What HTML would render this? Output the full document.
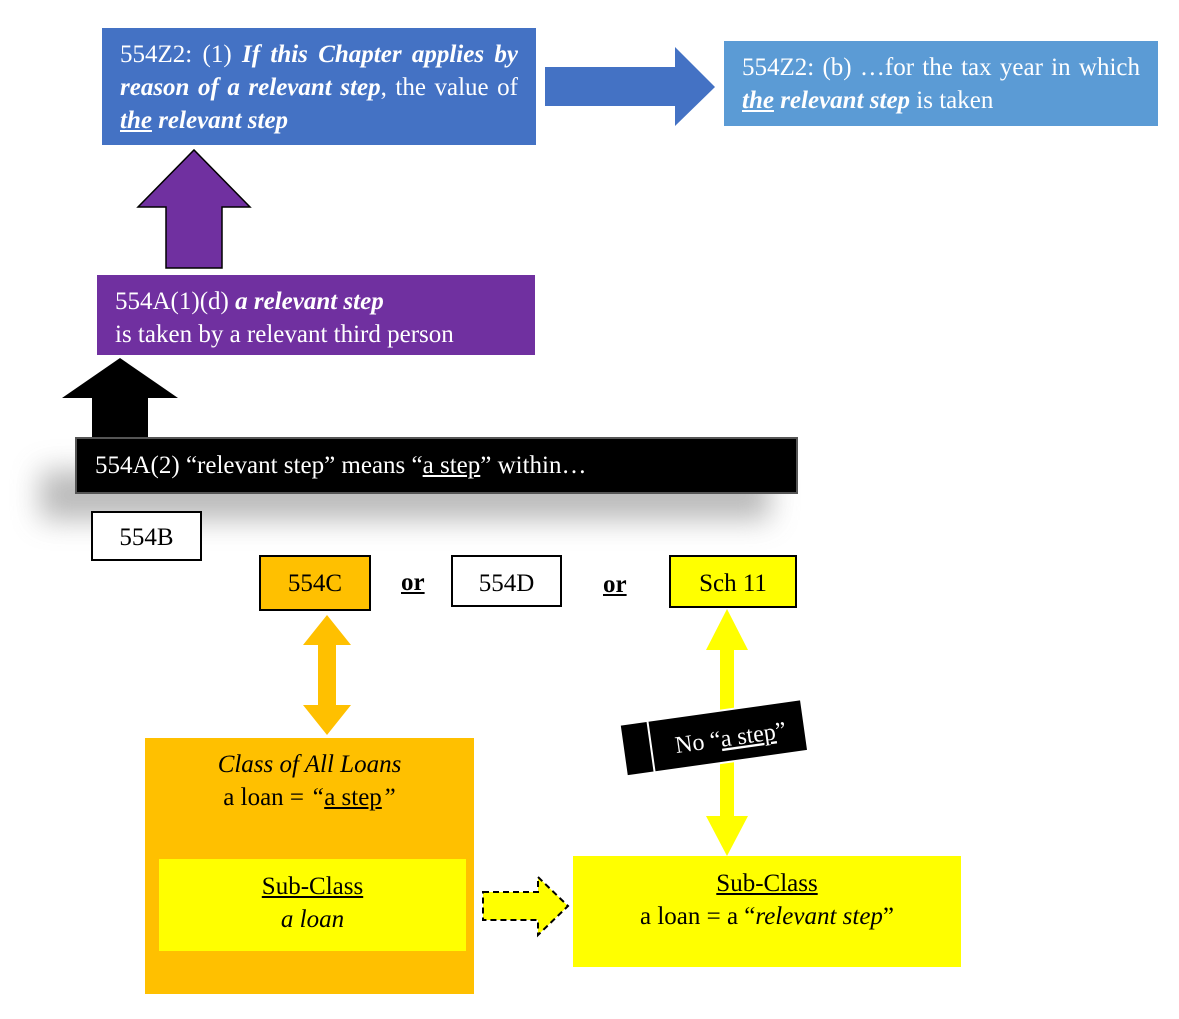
<!DOCTYPE html>
<html><head><style>
body{margin:0;width:1179px;height:1019px;background:#fff;position:relative;overflow:hidden;font-family:"Liberation Serif",serif;}
.b{position:absolute;box-sizing:border-box;}
.t{font-size:25px;line-height:33px;}
</style></head><body>
<div class="b t" style="left:102px;top:28px;width:434px;height:117px;background:#4472C4;color:#fff;padding:10px 18px;text-align:justify;">554Z2: (1) <b><i>If this Chapter applies by reason of a relevant step</i></b>, the value of <b><i><u>the</u> relevant step</i></b></div>
<div class="b t" style="left:724px;top:41px;width:434px;height:85px;background:#5B9BD5;color:#fff;padding:10px 18px;text-align:justify;">554Z2: (b) …for the tax year in which <b><i><u>the</u> relevant step</i></b> is taken</div>
<div class="b t" style="left:97px;top:275px;width:438px;height:80px;background:#7030A0;color:#fff;padding:10px 18px;overflow:hidden;">554A(1)(d) <b><i>a relevant step</i></b><br>is taken by a relevant third person</div>
<div class="b" style="left:40px;top:470px;width:730px;height:50px;background:#aaa;filter:blur(14px);opacity:.8"></div>
<div class="b t" style="left:75px;top:437px;width:723px;height:57px;background:#000;color:#fff;padding:10px 18px;border:2px solid #555;">554A(2) “relevant step” means “<u>a step</u>” within…</div>
<div class="b t" style="left:91px;top:511px;width:111px;height:50px;border:2px solid #000;text-align:center;padding-top:8px;background:#fff">554B</div>
<div class="b t" style="left:259px;top:555px;width:112px;height:56px;border:2px solid #000;text-align:center;padding-top:10px;background:#FFC000">554C</div>
<div class="b t" style="left:401px;top:566px;font-weight:bold;text-decoration:underline">or</div>
<div class="b t" style="left:451px;top:555px;width:111px;height:52px;border:2px solid #000;text-align:center;padding-top:10px">554D</div>
<div class="b t" style="left:603px;top:568px;font-weight:bold;text-decoration:underline">or</div>
<div class="b t" style="left:669px;top:555px;width:128px;height:53px;border:2px solid #000;text-align:center;padding-top:10px;background:#FFFF00">Sch 11</div>
<div class="b t" style="left:145px;top:738px;width:329px;height:256px;background:#FFC000;text-align:center;padding-top:10px"><i>Class of All Loans</i><br>a loan = <i>“</i><u>a step</u><i>”</i></div>
<div class="b t" style="left:159px;top:859px;width:307px;height:92px;background:#FFFF00;text-align:center;padding-top:11px"><u>Sub-Class</u><br><i>a loan</i></div>
<div class="b t" style="left:573px;top:856px;width:388px;height:111px;background:#FFFF00;text-align:center;padding-top:11px"><u>Sub-Class</u><br>a loan = a “<i>relevant step</i>”</div>
<svg class="b" style="left:0;top:0" width="1179" height="1019">
<polygon points="545,67 675,67 675,47 715,87 675,126 675,106 545,106" fill="#4472C4"/>
<polygon points="166,268 166,207 138,207 194,150 250,207 222,207 222,268" fill="#7030A0" stroke="#000" stroke-width="1.5"/>
<polygon points="92,437 92,398 62,398 120,358 178,398 148,398 148,437" fill="#000"/>
<polygon points="327,615 351,645 336,645 336,705 351,705 327,735 303,705 318,705 318,645 303,645" fill="#FFC000"/>
<polygon points="727,609 748,650 734,650 734,816 748,816 727,856 706,816 720,816 720,650 706,650" fill="#FFFF00"/>
<polygon points="483,892 538,892 538,877 568,906 538,935 538,920 483,920" fill="#FFFF00" stroke="#000" stroke-width="2" stroke-dasharray="6,4"/>
<g transform="rotate(-8 712 735)">
<rect x="622" y="712" width="183" height="52" fill="#000" stroke="#fff" stroke-width="2"/>
<rect x="622" y="712" width="28" height="52" fill="#000" stroke="#fff" stroke-width="2"/>
<text x="730" y="748" fill="#fff" font-family="Liberation Serif" font-size="24" text-anchor="middle">No “<tspan text-decoration="underline">a step</tspan>”</text>
</g>
</svg>
</body></html>
